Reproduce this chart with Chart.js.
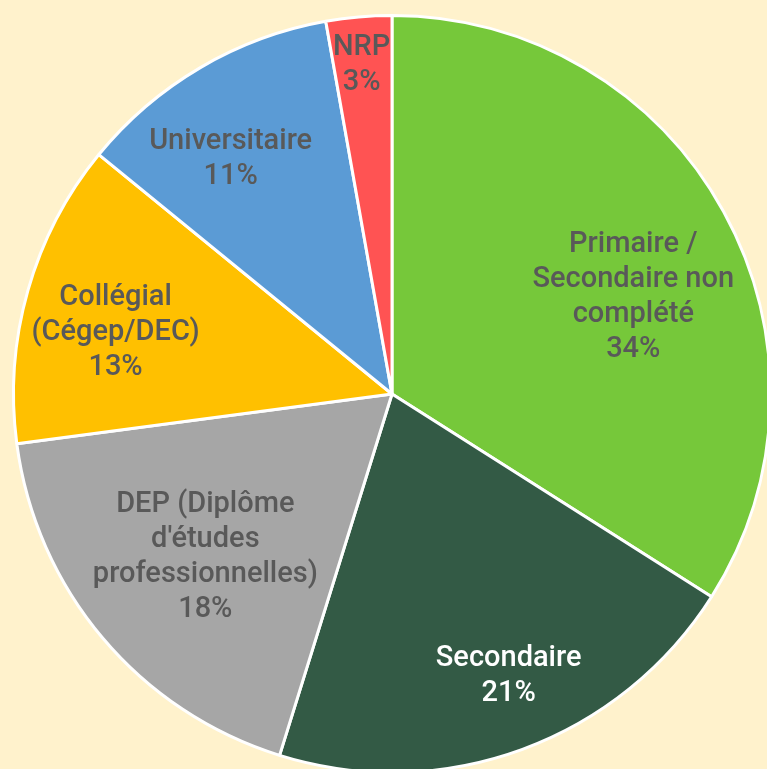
<!DOCTYPE html>
<html>
<head>
<meta charset="utf-8">
<script src="https://cdn.jsdelivr.net/npm/chart.js@4/dist/chart.umd.min.js"></script>
<style>
  html, body { margin: 0; padding: 0; background: #FFF2CC; overflow: hidden; }
  #wrap { position: absolute; left: 0; top: 0; width: 784px; height: 788px; }
</style>
</head>
<body>
<div id="wrap"><canvas id="c"></canvas></div>
<script>
// Categories (label lines) and values
const categories = [
  ["Primaire /", "Secondaire non", "complété"],
  ["Secondaire"],
  ["DEP (Diplôme", "d'études", "professionnelles)"],
  ["Collégial", "(Cégep/DEC)"],
  ["Universitaire"],
  ["NRP"]
];
const values = [34.0, 20.8, 18.1, 13.0, 11.3, 2.8];
const percentLabels = ["34%", "21%", "18%", "13%", "11%", "3%"];
const sliceColors = ["#76C83A", "#335A45", "#A6A6A6", "#FFC000", "#5B9BD5", "#FF5353"];
const labelColors = ["#595959", "#FFFFFF", "#595959", "#595959", "#595959", "#595959"];
// label placement: fraction of radius, angle shift (degrees)
const labelRadius = [0.69, 0.80, 0.65, 0.75, 0.76, 0.88];
const labelShift = [6.3, -2.5, -0.5, -2.7, -3.7, -0.2];

const labelPlugin = {
  id: 'sliceLabels',
  afterDatasetsDraw(chart) {
    const ctx = chart.ctx;
    const meta = chart.getDatasetMeta(0);
    ctx.save();
    ctx.font = '500 29px Roboto';
    ctx.textAlign = 'center';
    ctx.textBaseline = 'middle';
    const lineH = 35;
    meta.data.forEach((arc, i) => {
      const p = arc.getProps(['x', 'y', 'startAngle', 'endAngle', 'outerRadius'], true);
      const mid = (p.startAngle + p.endAngle) / 2 + labelShift[i] * Math.PI / 180;
      const r = p.outerRadius * labelRadius[i];
      const cx = p.x + Math.cos(mid) * r;
      const cy = p.y + Math.sin(mid) * r + 3;
      const lines = categories[i].concat([percentLabels[i]]);
      const y0 = cy - (lines.length - 1) * lineH / 2;
      ctx.fillStyle = labelColors[i];
      lines.forEach((t, k) => ctx.fillText(t, cx, y0 + k * lineH));
    });
    ctx.restore();
  }
};

new Chart(document.getElementById('c'), {
  type: 'pie',
  data: {
    labels: categories.map(c => c.join(' ')),
    datasets: [{
      data: values,
      backgroundColor: sliceColors,
      borderColor: '#FFFFFF',
      borderWidth: 3
    }]
  },
  options: {
    responsive: true,
    maintainAspectRatio: false,
    animation: false,
    layout: { padding: 12 },
    plugins: {
      legend: { display: false },
      tooltip: { enabled: false }
    }
  },
  plugins: [labelPlugin]
});
</script>
</body>
</html>
